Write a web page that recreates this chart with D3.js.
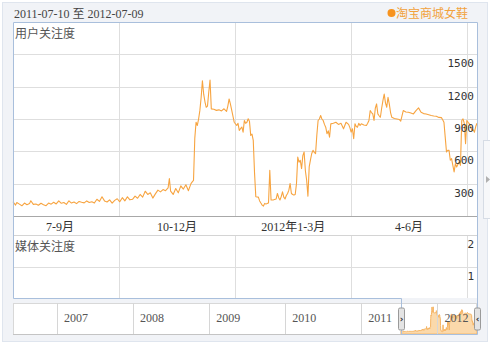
<!DOCTYPE html>
<html>
<head>
<meta charset="utf-8">
<script src="https://cdn.jsdelivr.net/npm/d3@7"></script>
<style>
  body { margin: 0; background: #fff; }
  svg { display: block; }
</style>
</head>
<body>
<svg width="490" height="345" id="mainsvg"></svg>
<script>
// ---- data ----
const startDate = new Date(2011, 6, 10)
const endDate = new Date(2012, 6, 9)
const seriesName = '淘宝商城女鞋'
// [days after 2011-07-10, user attention]
const userAttention = [
  [0,132],[2,101],[3,125],[5,110],[7,95],[9,120],[11,105],[13,115],[14,141],[16,108],[18,112],[20,100],
  [22,118],[24,105],[26,96],[28,120],[30,110],[32,128],[34,112],[36,141],[38,118],[40,125],[42,108],
  [44,141],[46,120],[48,130],[50,115],[52,135],[54,128],[56,122],[58,140],[60,125],[62,132],[64,120],
  [66,155],[68,135],[70,178],[72,140],[74,130],[76,150],[78,120],[80,145],[82,160],[84,132],[86,170],
  [88,140],[90,178],[92,150],[94,155],[96,185],[98,165],[100,200],[102,175],[104,230],[106,200],[108,215],
  [110,166],[112,205],[114,240],[116,224],[118,245],[120,235],[122,260],[123,348],[124,230],[126,200],
  [128,255],[130,215],[132,280],[134,250],[136,290],[138,235],[140,300],[141,317],[142,330],[143,720],
  [144,870],[145,840],[146,900],[147,980],[148,1100],[149,1255],[150,1130],[151,1060],[152,1009],[153,1020],
  [154,1150],[155,1262],[156,994],[158,990],[160,980],[162,985],[164,975],[166,995],[168,970],[169,1020],
  [170,1086],[171,1040],[172,985],[174,870],[176,840],[177,860],[178,794],[179,810],[180,826],[181,778],
  [182,886],[183,860],[184,870],[185,902],[186,880],[187,748],[188,760],[189,701],[190,400],[191,178],
  [193,175],[194,140],[195,120],[196,101],[197,92],[198,117],[199,110],[200,117],[201,120],[202,425],
  [203,148],[205,150],[207,158],[208,209],[209,170],[210,148],[211,180],[212,224],[213,175],[214,158],
  [215,190],[216,209],[217,240],[218,302],[219,209],[220,200],[221,194],[222,200],[223,300],[224,547],
  [225,500],[226,516],[227,440],[228,560],[229,594],[230,420],[231,332],[232,184],[233,455],[234,520],
  [235,580],[236,609],[237,590],[238,578],[239,750],[240,886],[241,900],[242,932],[243,900],[244,886],
  [245,850],[246,824],[247,763],[248,790],[249,732],[250,855],[252,860],[254,870],[256,850],[258,860],
  [259,835],[260,809],[262,870],[264,850],[265,820],[266,778],[267,810],[268,717],[269,855],[270,830],
  [271,824],[272,860],[273,840],[274,855],[276,845],[278,840],[279,860],[280,886],[281,978],[282,960],
  [283,947],[284,886],[285,1000],[286,1040],[287,947],[288,930],[289,916],[290,1000],[291,1070],[292,1132],
  [293,1050],[294,1009],[295,1101],[296,1040],[297,960],[298,916],[300,905],[302,900],[304,895],[305,880],
  [306,930],[307,978],[309,965],[311,962],[313,955],[315,947],[317,978],[319,1003],[321,962],[323,950],
  [325,947],[327,940],[329,932],[331,928],[333,925],[335,915],[337,913],[338,893],[339,870],[340,732],
  [341,594],[342,610],[343,609],[344,517],[345,532],[346,470],[347,409],[348,486],[349,455],[350,480],
  [351,501],[352,470],[353,886],[354,901],[355,860],[356,671],[357,886],[358,870],[359,855],[360,830],
  [361,794],[362,800],[363,778],[364,830],[365,860]
]
const userTicks = [300, 600, 900, 1200, 1500]
const mediaTicks = [1, 2]
const quarterStarts = ['2011-07-01', '2011-10-01', '2012-01-01', '2012-04-01', '2012-07-01']
const quarterLabels = ['7-9月', '10-12月', '2012年1-3月', '4-6月']
const navYears = ['2007', '2008', '2009', '2010', '2011', '2012']
const navRange = [new Date(2006, 5, 4), new Date(2012, 6, 9)]

// ---- layout ----
const svg = d3.select('#mainsvg')
const left = 13, right = 477
const top1 = 22, bottom1 = 216, top2 = 235, bottom2 = 298
const navTop = 303, navBottom = 334
const orange = '#f7a440'
const border = '#a9bfdc'
const grid = '#dedede'
const serif = '"Liberation Serif", "Noto Sans CJK SC", serif'
const cjk = '"Noto Sans CJK SC", sans-serif'
const mono = '"DejaVu Sans Mono", monospace'
const parse = d3.timeParse('%Y-%m-%d')
const points = userAttention.map(d => ({date: d3.timeDay.offset(startDate, d[0]), value: d[1]}))

const x = d3.scaleTime().domain([startDate, endDate]).range([left, right])
const y = d3.scaleLinear().domain([0, 1800]).range([bottom1, top1])
const y2 = d3.scaleLinear().domain([0, 2]).range([bottom2, top2])
const xNav = d3.scaleTime().domain(navRange).range([left, right])
const yNav = d3.scaleLinear().domain([0, 1300]).range([navBottom, navTop + 3])

// outer frame
svg.append('rect').attr('x', 2.5).attr('y', 2.5).attr('width', 485).attr('height', 339)
  .attr('fill', '#f1f3f7').attr('stroke', '#dfe5ee')

// header
svg.append('text').attr('x', 14).attr('y', 18).attr('font-family', serif).attr('font-size', 12)
  .attr('fill', '#444').text(`${d3.timeFormat('%Y-%m-%d')(startDate)} 至 ${d3.timeFormat('%Y-%m-%d')(endDate)}`)
svg.append('circle').attr('cx', 391.5).attr('cy', 13).attr('r', 4).attr('fill', '#f7931e')
svg.append('text').attr('x', 396).attr('y', 18).attr('font-family', cjk).attr('font-size', 12)
  .attr('fill', '#f2a23c').text(seriesName)

// panels
svg.append('rect').attr('x', left).attr('y', top1).attr('width', right - left).attr('height', bottom2 - top1)
  .attr('fill', '#fff')

const quarterDates = quarterStarts.map(parse)
const vLines = quarterDates.filter(d => d > startDate && d < endDate)

// upper grid
svg.append('g').selectAll('line').data(userTicks).join('line')
  .attr('x1', left).attr('x2', right).attr('y1', d => Math.round(y(d)) + 0.5).attr('y2', d => Math.round(y(d)) + 0.5)
  .attr('stroke', grid)
svg.append('g').selectAll('line').data(vLines).join('line')
  .attr('x1', d => Math.round(x(d)) + 0.5).attr('x2', d => Math.round(x(d)) + 0.5)
  .attr('y1', top1).attr('y2', bottom1).attr('stroke', grid)
// lower grid
svg.append('g').selectAll('line').data(mediaTicks.slice(0, 1)).join('line')
  .attr('x1', left).attr('x2', right).attr('y1', d => Math.round(y2(d)) + 0.5).attr('y2', d => Math.round(y2(d)) + 0.5)
  .attr('stroke', grid)
svg.append('g').selectAll('line').data(vLines).join('line')
  .attr('x1', d => Math.round(x(d)) + 0.5).attr('x2', d => Math.round(x(d)) + 0.5)
  .attr('y1', top2).attr('y2', bottom2).attr('stroke', grid)

// axis lines
svg.append('line').attr('x1', left).attr('x2', right).attr('y1', bottom1 + 0.5).attr('y2', bottom1 + 0.5)
  .attr('stroke', '#a8a8a8')
svg.append('line').attr('x1', left).attr('x2', right).attr('y1', top2 + 0.5).attr('y2', top2 + 0.5)
  .attr('stroke', '#d4d4d4')

// quarter labels
svg.append('g').selectAll('text').data(quarterLabels).join('text')
  .attr('x', (d, i) => (x(quarterDates[i]) + x(quarterDates[i + 1])) / 2)
  .attr('y', 231).attr('text-anchor', 'middle')
  .attr('font-family', serif).attr('font-size', 12).attr('fill', '#333')
  .text(d => d)

// the line
svg.append('path').datum(points)
  .attr('fill', 'none').attr('stroke', orange).attr('stroke-width', 1.1)
  .attr('stroke-linejoin', 'round')
  .attr('d', d3.line().x(d => x(d.date)).y(d => y(d.value)))

// tick labels
svg.append('g').selectAll('text').data(userTicks).join('text')
  .attr('x', 474).attr('y', d => Math.round(y(d)) + 13).attr('text-anchor', 'end')
  .attr('font-family', mono).attr('font-size', 11).attr('fill', '#333').text(d => d)
svg.append('g').selectAll('text').data(mediaTicks).join('text')
  .attr('x', 474).attr('y', d => Math.round(y2(d)) + 13).attr('text-anchor', 'end')
  .attr('font-family', mono).attr('font-size', 11).attr('fill', '#333').text(d => d)

svg.append('text').attr('x', 15).attr('y', 38).attr('font-family', cjk).attr('font-size', 12)
  .attr('fill', '#555').text('用户关注度')
svg.append('text').attr('x', 15).attr('y', 251).attr('font-family', cjk).attr('font-size', 12)
  .attr('fill', '#555').text('媒体关注度')

// navigator
const selX0 = Math.round(xNav(startDate)) + 0.5
svg.append('rect').attr('x', left + 0.5).attr('y', navTop + 0.5).attr('width', right - left - 1).attr('height', navBottom - navTop)
  .attr('fill', '#fff').attr('stroke', '#d8d8d8')
svg.append('line').attr('x1', left).attr('x2', right).attr('y1', navBottom + 0.5).attr('y2', navBottom + 0.5)
  .attr('stroke', '#c4c4c4')
svg.append('path').datum(points)
  .attr('fill', '#fbd9ab').attr('stroke', '#f6b565').attr('stroke-width', 1)
  .attr('d', d3.area().x(d => xNav(d.date)).y0(navBottom).y1(d => yNav(d.value)))
const yearDates = navYears.map(d => parse(d + '-01-01'))
svg.append('g').selectAll('line').data(yearDates).join('line')
  .attr('x1', d => Math.round(xNav(d)) + 0.5).attr('x2', d => Math.round(xNav(d)) + 0.5)
  .attr('y1', navTop).attr('y2', navBottom).attr('stroke', '#d6d6d6')
svg.append('g').selectAll('text').data(navYears).join('text')
  .attr('x', (d, i) => xNav(yearDates[i]) + 7).attr('y', 322)
  .attr('font-family', serif).attr('font-size', 12).attr('fill', '#555').text(d => d)

// panel border with selection bracket
svg.append('path')
  .attr('d', `M${selX0},${bottom2 + 0.5} H${left + 0.5} V${top1 + 0.5} H${right + 0.5} V${navBottom + 0.5} H${selX0} V${bottom2 + 0.5}`)
  .attr('fill', 'none').attr('stroke', border)

// handles
const handles = [selX0, right + 0.5]
const hg = svg.append('g').selectAll('g').data(handles).join('g')
  .attr('transform', d => `translate(${d - 3},308)`)
hg.append('rect').attr('width', 6).attr('height', 22).attr('rx', 1.5)
  .attr('fill', '#e4e4e4').attr('stroke', '#9a9a9a')
hg.append('text').attr('x', 3).attr('y', 14).attr('text-anchor', 'middle')
  .attr('font-family', '"DejaVu Sans", sans-serif').attr('font-size', 9).attr('font-weight', 'bold').attr('fill', '#333')
  .text((d, i) => i === 0 ? '›' : '‹')

// side tab
svg.append('rect').attr('x', 483.5).attr('y', 140.5).attr('width', 12).attr('height', 78)
  .attr('fill', '#f7f8fa').attr('stroke', '#d6dce5')
svg.append('path').attr('d', 'M486,176 L490,179.5 L486,183 Z').attr('fill', '#b0b0b0')
</script>
</body>
</html>
